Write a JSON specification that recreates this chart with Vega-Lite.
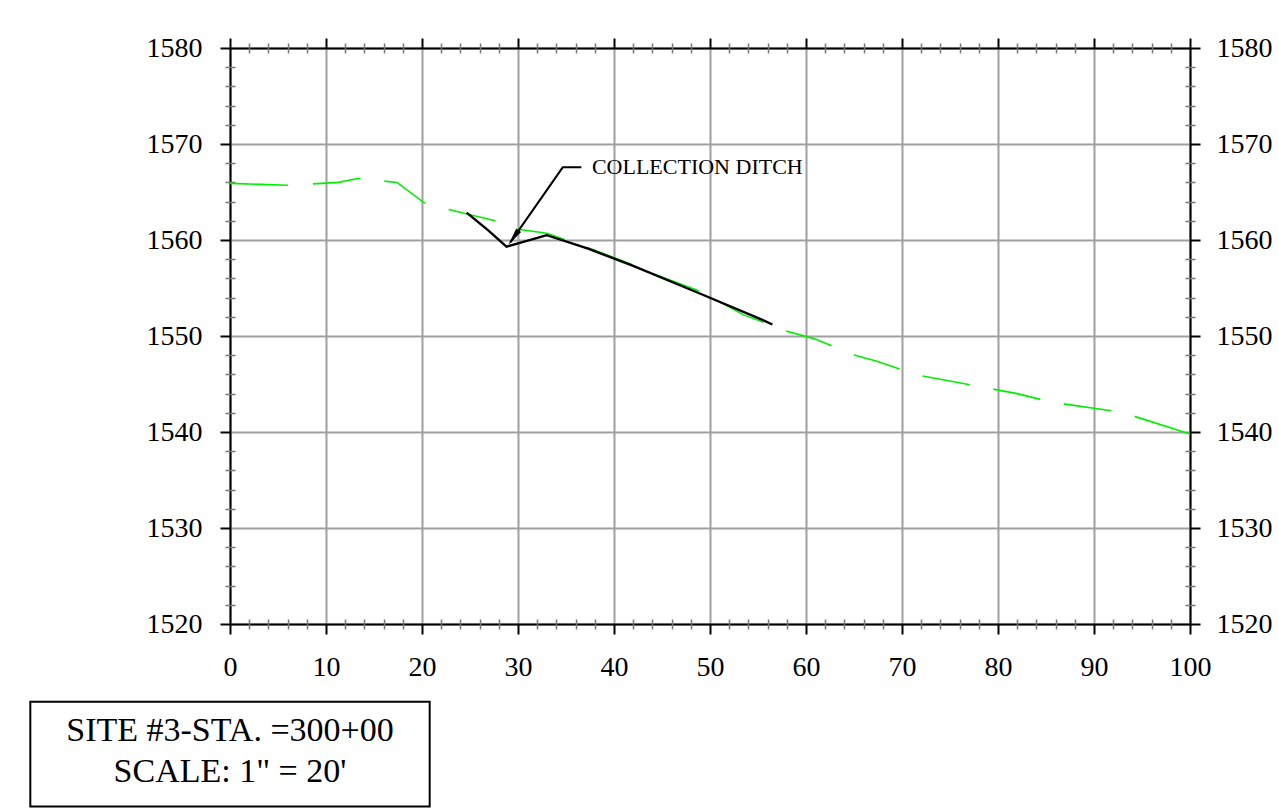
{
  "$schema": "https://vega.github.io/schema/vega-lite/v6.json",
  "width": 960,
  "height": 576,
  "autosize": "none",
  "padding": {"left": 230, "top": 48, "right": 89, "bottom": 184},
  "background": "white",
  "config": {"view": {"stroke": null}, "font": "Liberation Serif"},
  "datasets": {
    "ground": [
      {"x": 0, "y": 1565.9}, {"x": 6, "y": 1565.7}, {"x": 11.3, "y": 1566.0}, {"x": 13.3, "y": 1566.4},
      {"x": 17.4, "y": 1566.0}, {"x": 20.2, "y": 1563.9}, {"x": 22.7, "y": 1563.2}, {"x": 27.6, "y": 1562.0},
      {"x": 30.2, "y": 1561.1}, {"x": 33.0, "y": 1560.7}, {"x": 37.3, "y": 1559.2}, {"x": 42.0, "y": 1557.4},
      {"x": 44.3, "y": 1556.4}, {"x": 48.6, "y": 1554.8}, {"x": 51.3, "y": 1553.4}, {"x": 53.5, "y": 1552.2},
      {"x": 55.7, "y": 1551.4}, {"x": 58.0, "y": 1550.5}, {"x": 60.9, "y": 1549.7}, {"x": 65.1, "y": 1548.0},
      {"x": 67.3, "y": 1547.4}, {"x": 69.9, "y": 1546.5}, {"x": 72.3, "y": 1545.8}, {"x": 77.2, "y": 1544.9},
      {"x": 82.0, "y": 1544.0}, {"x": 84.4, "y": 1543.4}, {"x": 87.0, "y": 1542.9}, {"x": 91.9, "y": 1542.2},
      {"x": 94.3, "y": 1541.6}, {"x": 100, "y": 1539.8}
    ],
    "ditch": [
      {"x": 24.65, "y": 1562.85}, {"x": 26.9, "y": 1561.0}, {"x": 28.8, "y": 1559.3}, {"x": 33.0, "y": 1560.5},
      {"x": 37.3, "y": 1559.1}, {"x": 42.0, "y": 1557.3}, {"x": 49.0, "y": 1554.4}, {"x": 55.4, "y": 1551.7},
      {"x": 56.5, "y": 1551.2}
    ],
    "leader": [
      {"o": 1, "x": 36.6, "y": 1567.57}, {"o": 2, "x": 34.66, "y": 1567.57}, {"o": 3, "x": 29.2, "y": 1559.75}
    ],
    "arrow": [{"x": 29.53, "y": 1560.25}],
    "note": [{"x": 37.7, "y": 1567.57, "t": "COLLECTION DITCH"}],
    "box": [{"x": -20.8, "x2": 20.8, "y": 1511.9, "y2": 1501.0}],
    "boxtext": [
      {"x": 0, "y": 1508.9, "t": "SITE #3-STA. =300+00"},
      {"x": 0, "y": 1504.6, "t": "SCALE: 1\" = 20'"}
    ]
  },
  "resolve": {"axis": {"x": "independent", "y": "independent"}},
  "layer": [
    {
      "data": {"name": "ground"},
      "mark": {"type": "line", "color": "#00ee00", "strokeWidth": 1.6,
        "strokeDash": [58, 25, 48, 24, 48, 24, 48, 24, 48, 24, 48, 24, 48, 24, 48, 24, 48, 24, 48, 24, 48, 24, 48, 24, 48, 24, 90, 40]},
      "encoding": {
        "x": {"field": "x", "type": "quantitative", "scale": {"domain": [0, 100], "nice": false, "zero": false},
          "axis": {"orient": "bottom", "title": null, "values": [0,10,20,30,40,50,60,70,80,90,100], "format": "d",
            "grid": true, "gridColor": "#a0a0a0", "gridWidth": 2, "domainColor": "black", "domainWidth": 2,
            "tickColor": "black", "tickWidth": 2, "tickSize": 10, "labelFont": "Liberation Serif", "labelFontSize": 28,
            "labelColor": "black", "labelPadding": 19, "labelFlush": false, "labelOverlap": false}},
        "y": {"field": "y", "type": "quantitative", "scale": {"domain": [1520, 1580], "nice": false, "zero": false},
          "axis": {"orient": "left", "title": null, "values": [1520,1530,1540,1550,1560,1570,1580], "format": "d",
            "grid": true, "gridColor": "#a0a0a0", "gridWidth": 2, "domainColor": "black", "domainWidth": 2,
            "tickColor": "black", "tickWidth": 2, "tickSize": 10, "labelFont": "Liberation Serif", "labelFontSize": 28,
            "labelColor": "black", "labelPadding": 18, "labelFlush": false, "labelOverlap": false}}
      }
    },
    {
      "data": {"name": "ditch"},
      "mark": {"type": "line", "color": "black", "strokeWidth": 2.4},
      "encoding": {
        "x": {"field": "x", "type": "quantitative", "scale": {"domain": [0, 100], "nice": false, "zero": false},
          "axis": {"orient": "top", "title": null, "values": [0,10,20,30,40,50,60,70,80,90,100], "labels": false,
            "grid": false, "domainColor": "black", "domainWidth": 2, "tickColor": "black", "tickWidth": 2, "tickSize": 10}},
        "y": {"field": "y", "type": "quantitative", "scale": {"domain": [1520, 1580], "nice": false, "zero": false},
          "axis": {"orient": "right", "title": null, "values": [1520,1530,1540,1550,1560,1570,1580], "format": "d",
            "grid": false, "domainColor": "black", "domainWidth": 2,
            "tickColor": "black", "tickWidth": 2, "tickSize": 10, "labelFont": "Liberation Serif", "labelFontSize": 28,
            "labelColor": "black", "labelPadding": 16, "labelFlush": false, "labelOverlap": false}}
      }
    },
    {
      "data": {"name": "leader"},
      "mark": {"type": "line", "color": "black", "strokeWidth": 2},
      "encoding": {
        "order": {"field": "o"},
        "x": {"field": "x", "type": "quantitative", "scale": {"domain": [0, 100], "nice": false, "zero": false},
          "axis": {"orient": "bottom", "title": null, "offset": -5, "labels": false, "domain": false, "grid": false,
            "values": [2,4,6,8,12,14,16,18,22,24,26,28,32,34,36,38,42,44,46,48,52,54,56,58,62,64,66,68,72,74,76,78,82,84,86,88,92,94,96,98],
            "tickColor": "#777777", "tickWidth": 1.5, "tickSize": 10}},
        "y": {"field": "y", "type": "quantitative", "scale": {"domain": [1520, 1580], "nice": false, "zero": false},
          "axis": {"orient": "left", "title": null, "offset": -5, "labels": false, "domain": false, "grid": false,
            "values": [1522,1524,1526,1528,1532,1534,1536,1538,1542,1544,1546,1548,1552,1554,1556,1558,1562,1564,1566,1568,1572,1574,1576,1578],
            "tickColor": "#777777", "tickWidth": 1.5, "tickSize": 10}}
      }
    },
    {
      "data": {"name": "box"},
      "mark": {"type": "rect", "fill": "white", "stroke": "black", "strokeWidth": 2},
      "encoding": {
        "x": {"field": "x", "type": "quantitative", "scale": {"domain": [0, 100], "nice": false, "zero": false},
          "axis": {"orient": "top", "title": null, "offset": -5, "labels": false, "domain": false, "grid": false,
            "values": [2,4,6,8,12,14,16,18,22,24,26,28,32,34,36,38,42,44,46,48,52,54,56,58,62,64,66,68,72,74,76,78,82,84,86,88,92,94,96,98],
            "tickColor": "#777777", "tickWidth": 1.5, "tickSize": 10}},
        "x2": {"field": "x2"},
        "y": {"field": "y", "type": "quantitative", "scale": {"domain": [1520, 1580], "nice": false, "zero": false},
          "axis": {"orient": "right", "title": null, "offset": -5, "labels": false, "domain": false, "grid": false,
            "values": [1522,1524,1526,1528,1532,1534,1536,1538,1542,1544,1546,1548,1552,1554,1556,1558,1562,1564,1566,1568,1572,1574,1576,1578],
            "tickColor": "#777777", "tickWidth": 1.5, "tickSize": 10}},
        "y2": {"field": "y2"}
      }
    },
    {
      "data": {"name": "boxtext"},
      "mark": {"type": "text", "font": "Liberation Serif", "fontSize": 34, "color": "black", "align": "center", "baseline": "middle"},
      "encoding": {
        "x": {"field": "x", "type": "quantitative", "axis": null, "scale": {"domain": [0, 100], "nice": false, "zero": false}},
        "y": {"field": "y", "type": "quantitative", "axis": null, "scale": {"domain": [1520, 1580], "nice": false, "zero": false}},
        "text": {"field": "t"}
      }
    },
    {
      "data": {"name": "note"},
      "mark": {"type": "text", "font": "Liberation Serif", "fontSize": 22, "color": "black", "align": "left", "baseline": "middle"},
      "encoding": {
        "x": {"field": "x", "type": "quantitative", "axis": null, "scale": {"domain": [0, 100], "nice": false, "zero": false}},
        "y": {"field": "y", "type": "quantitative", "axis": null, "scale": {"domain": [1520, 1580], "nice": false, "zero": false}},
        "text": {"field": "t"}
      }
    },
    {
      "data": {"name": "arrow"},
      "mark": {"type": "point", "shape": "M0,-1L0.33,1L-0.33,1Z", "filled": true, "color": "black", "opacity": 1, "size": 324, "angle": 215},
      "encoding": {
        "x": {"field": "x", "type": "quantitative", "axis": null, "scale": {"domain": [0, 100], "nice": false, "zero": false}},
        "y": {"field": "y", "type": "quantitative", "axis": null, "scale": {"domain": [1520, 1580], "nice": false, "zero": false}}
      }
    }
  ]
}
